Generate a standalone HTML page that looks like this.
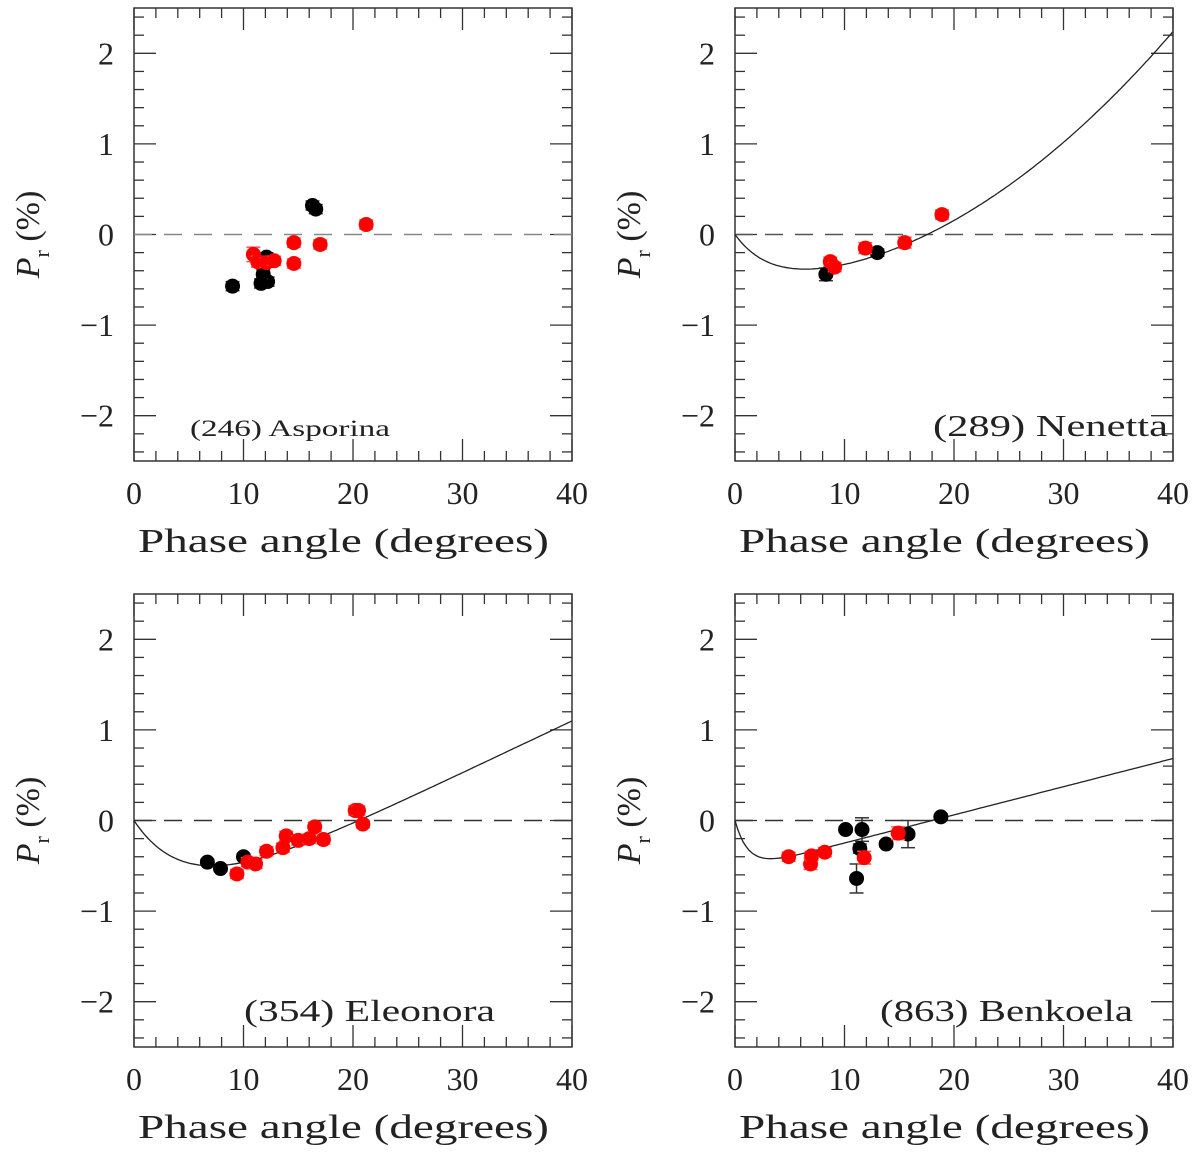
<!DOCTYPE html>
<html><head><meta charset="utf-8"><style>
html,body{margin:0;padding:0;background:#fff}
svg{display:block}
text{font-family:"Liberation Serif",serif;fill:#222}
</style></head><body>
<svg id="fig" width="1200" height="1153" viewBox="0 0 1200 1153"></svg>
<script>
// ---- data ----
const asporinaBlackX=[9.0,16.3,16.6,12.1,11.8,12.2,11.6];
const asporinaBlackP=[-0.57,0.32,0.28,-0.25,-0.44,-0.52,-0.54];
const asporinaBlackE=[0.05,0.05,0.05,0.05,0.05,0.05,0.05];
const asporinaRedX=[10.9,11.3,12.1,12.8,14.6,14.6,17.0,21.2];
const asporinaRedP=[-0.22,-0.3,-0.31,-0.29,-0.09,-0.32,-0.11,0.11];
const asporinaRedE=[0.08,0.06,0.05,0.05,0.05,0.05,0.05,0.05];
const nenettaBlackX=[8.3,13.0];
const nenettaBlackP=[-0.44,-0.2];
const nenettaBlackE=[0.07,0.04];
const nenettaRedX=[8.7,9.1,11.9,15.5,18.9];
const nenettaRedP=[-0.3,-0.36,-0.15,-0.09,0.22];
const nenettaRedE=[0.05,0.05,0.06,0.06,0.05];
const eleonoraBlackX=[6.7,7.9,10.0];
const eleonoraBlackP=[-0.46,-0.53,-0.4];
const eleonoraBlackE=[0.03,0.03,0.03];
const eleonoraRedX=[9.4,10.4,11.1,12.1,13.6,13.9,15.0,16.0,16.5,17.3,20.2,20.5,20.9];
const eleonoraRedP=[-0.59,-0.46,-0.48,-0.34,-0.3,-0.17,-0.22,-0.2,-0.07,-0.21,0.11,0.11,-0.04];
const eleonoraRedE=[0.05,0.05,0.05,0.05,0.05,0.05,0.05,0.05,0.05,0.05,0.05,0.05,0.04];
const benkoelaBlackX=[10.1,11.6,11.4,11.1,13.8,15.8,18.8];
const benkoelaBlackP=[-0.1,-0.1,-0.31,-0.64,-0.26,-0.15,0.04];
const benkoelaBlackE=[0.03,0.13,0.05,0.16,0.03,0.15,0.03];
const benkoelaRedX=[4.9,6.9,7.0,8.2,11.8,14.9];
const benkoelaRedP=[-0.4,-0.48,-0.39,-0.35,-0.41,-0.14];
const benkoelaRedE=[0.05,0.06,0.05,0.05,0.07,0.07];
// fit params [A, C, B, D] : P = A(exp(-x/C)-1) + B x + D x^2
const nenettaFit=[0.49,3,-0.00376,0.0018];
const eleonoraFit=[1.197,5,0.0574,0];
const benkoelaFit=[0.56,1.2,0.0311,0];
const xTicks=[0,10,20,30,40];
const yTicks=[2,1,0,-1,-2];
const yTickLabels=["2","1","0","\u22122","\u22122"];
yTickLabels[3]="\u22121";

const NS="http://www.w3.org/2000/svg";
const svg=document.getElementById('fig');
function mk(tag,attrs,parent){const e=document.createElementNS(NS,tag);for(const k in attrs)e.setAttribute(k,attrs[k]);(parent||svg).appendChild(e);return e;}

const panels=[
 {name:'asporina',left:134,top:8,label:'(246) Asporina',lx:190,ly:436,lsize:23,lw:200,bx:asporinaBlackX,bp:asporinaBlackP,be:asporinaBlackE,rx:asporinaRedX,rp:asporinaRedP,re:asporinaRedE,fit:null,dash:'#888'},
 {name:'nenetta',left:735,top:8,label:'(289) Nenetta',lx:933,ly:436,lsize:31,lw:235,bx:nenettaBlackX,bp:nenettaBlackP,be:nenettaBlackE,rx:nenettaRedX,rp:nenettaRedP,re:nenettaRedE,fit:nenettaFit,dash:'#555'},
 {name:'eleonora',left:134,top:594,label:'(354) Eleonora',lx:244,ly:1021,lsize:31,lw:251,bx:eleonoraBlackX,bp:eleonoraBlackP,be:eleonoraBlackE,rx:eleonoraRedX,rp:eleonoraRedP,re:eleonoraRedE,fit:eleonoraFit,dash:'#333'},
 {name:'benkoela',left:735,top:594,label:'(863) Benkoela',lx:880,ly:1021,lsize:31,lw:253,bx:benkoelaBlackX,bp:benkoelaBlackP,be:benkoelaBlackE,rx:benkoelaRedX,rp:benkoelaRedP,re:benkoelaRedE,fit:benkoelaFit,dash:'#333'}
];
const W=438,H=453,XS=W/40,YS=H/5;

panels.forEach(p=>{
 const g=mk('g',{});
 
 
 const xp=v=>p.left+v*XS;
 const yp=v=>p.top+(2.5-v)*YS;
 const bottom=p.top+H,right=p.left+W;
 // ticks
 const tk=mk('g',{stroke:'#333','stroke-width':1.3},g);
 
 
 for(let v=0;v<=40;v+=2){const L=(v%10===0)?22:10;
  mk('line',{x1:xp(v),x2:xp(v),y1:bottom,y2:bottom-L},tk);
  mk('line',{x1:xp(v),x2:xp(v),y1:p.top,y2:p.top+L},tk);}
 for(let i=-12;i<=12;i++){const v=i*0.2;const L=(i%5===0)?22:10;
  mk('line',{x1:p.left,x2:p.left+L,y1:yp(v),y2:yp(v)},tk);
  mk('line',{x1:right,x2:right-L,y1:yp(v),y2:yp(v)},tk);}
 const fr=mk('rect',{x:p.left,y:p.top,width:W,height:H,fill:'none',stroke:'#333','stroke-width':1.5},g);
 
 
 xTicks.forEach(v=>{const t=mk('text',{x:xp(v),y:bottom+43,'text-anchor':'middle','font-size':32},g);t.textContent=String(v);
  });
 yTicks.forEach((v,i)=>{const t=mk('text',{x:p.left-20,y:yp(v)+11,'text-anchor':'end','font-size':32},g);t.textContent=yTickLabels[i];
  });
 const xl=mk('text',{x:p.left+4,y:bottom+91,'font-size':34,textLength:411,lengthAdjust:'spacingAndGlyphs'},g);
 xl.textContent='Phase angle (degrees)';
 
 const yl=mk('text',{transform:`translate(${p.left-95},${yp(0)}) rotate(-90)`,'text-anchor':'middle','font-size':34},g);
 
 const t1=mk('tspan',{'font-style':'italic'},yl);t1.textContent='P';
 const t2=mk('tspan',{'font-size':22,dy:10},yl);t2.textContent='r';
 const t3=mk('tspan',{dy:-10},yl);t3.textContent=' (%)';
 // zero line
 const zl=mk('line',{x1:p.left,x2:right,y1:yp(0),y2:yp(0),stroke:p.dash,'stroke-width':1.6,'stroke-dasharray':'18 12'},g);
 
 // fit curve
 if(p.fit){const [A,C,B,D]=p.fit;let d='';
  for(let x=0;x<=40.001;x+=0.25){const P=A*(Math.exp(-x/C)-1)+B*x+D*x*x;const yy=Math.max(p.top,yp(P));d+=(d?'L':'M')+xp(x).toFixed(1)+','+yy.toFixed(1);}
  const c=mk('path',{d:d,fill:'none',stroke:'#222','stroke-width':1.3},g);
  }
 // points
 const series=(X,P,E,col,ecol,nm)=>{X.forEach((x,i)=>{
  const eg=mk('g',{stroke:ecol,'stroke-width':1.5},g);
  const y1=yp(P[i]+E[i]),y2=yp(P[i]-E[i]);
  mk('line',{x1:xp(x),x2:xp(x),y1:y1,y2:y2},eg);
  mk('line',{x1:xp(x)-7,x2:xp(x)+7,y1:y1,y2:y1},eg);
  mk('line',{x1:xp(x)-7,x2:xp(x)+7,y1:y2,y2:y2},eg);
  
  const c=mk('circle',{cx:xp(x),cy:yp(P[i]),r:7.5,fill:col},g);
  
 });};
 series(p.bx,p.bp,p.be,'#000','#333','black-data');
 series(p.rx,p.rp,p.re,'#f00','#f55','red-data');
 const lb=mk('text',{x:p.lx,y:p.ly,'font-size':p.lsize,textLength:p.lw,lengthAdjust:'spacingAndGlyphs'},g);
 lb.textContent=p.label;
 
});
</script>
</body></html>
